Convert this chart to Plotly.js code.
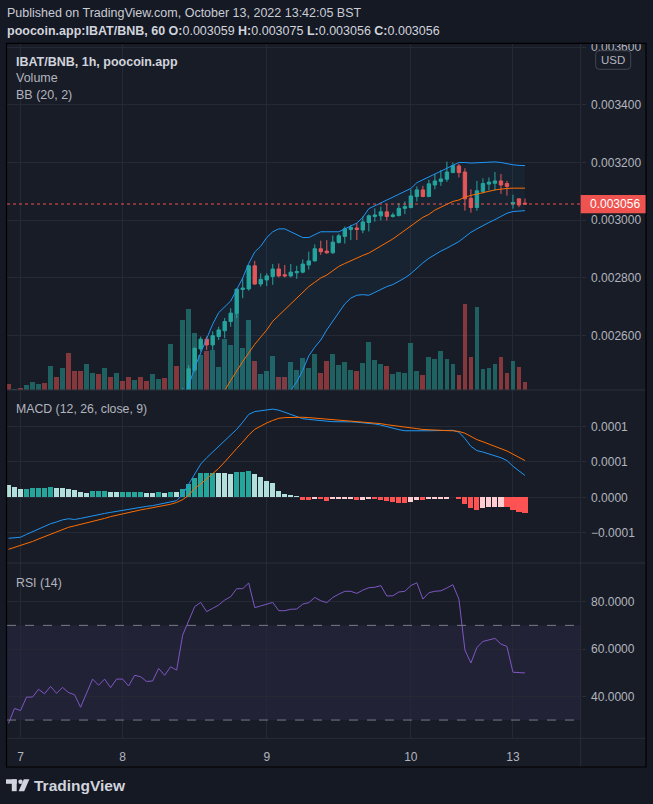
<!DOCTYPE html>
<html>
<head>
<meta charset="utf-8">
<script src="https://cdn.plot.ly/plotly-3.0.1.min.js"></script>
<style>
html,body{margin:0;padding:0;background:#151924;}
#chart{width:653px;height:804px;}
</style>
</head>
<body>
<div id="chart"></div>
<script>
// ---------- data ----------
const dayTickBars = [2, 19, 43, 67, 84];
const dayTickLabels = ['7', '8', '9', '10', '13'];

const openPrice = [
0.002270,0.002255,0.002262,0.002258,0.002280,0.002284,0.002298,0.002292,0.002310,0.002296,
0.002312,0.002300,0.002296,0.002272,0.002300,0.002326,0.002316,0.002330,0.002318,0.002334,
0.002332,0.002320,0.002340,0.002336,0.002328,0.002330,0.002356,0.002344,0.002366,0.002358,
0.002402,0.002481,0.002554,0.002588,0.002568,0.002597,0.002617,0.002649,0.002678,0.002760,
0.002762,0.002842,0.002779,0.002793,0.002805,0.002831,0.002811,0.002807,0.002818,0.002820,
0.002845,0.002859,0.002901,0.002893,0.002887,0.002923,0.002944,0.002968,0.002973,0.002966,
0.002992,0.003013,0.003015,0.003029,0.003013,0.003016,0.003041,0.003044,0.003082,0.003105,
0.003082,0.003122,0.003134,0.003142,0.003165,0.003188,0.003167,0.003076,0.003044,0.003099,
0.003125,0.003128,0.003136,0.003127,0.003056,0.003074,0.003059];
const highPrice = [
0.002285,0.002270,0.002268,0.002286,0.002292,0.002304,0.002302,0.002318,0.002314,0.002320,
0.002318,0.002306,0.002300,0.002306,0.002332,0.002330,0.002336,0.002334,0.002340,0.002340,
0.002336,0.002346,0.002346,0.002340,0.002336,0.002362,0.002360,0.002374,0.002372,0.002419,
0.002498,0.002560,0.002597,0.002597,0.002615,0.002631,0.002661,0.002695,0.002764,0.002799,
0.002845,0.002859,0.002816,0.002816,0.002848,0.002850,0.002845,0.002848,0.002842,0.002864,
0.002891,0.002916,0.002929,0.002931,0.002947,0.002953,0.002978,0.002984,0.002990,0.003013,
0.003020,0.003041,0.003047,0.003056,0.003026,0.003059,0.003065,0.003107,0.003117,0.003119,
0.003140,0.003160,0.003174,0.003203,0.003200,0.003195,0.003180,0.003107,0.003136,0.003145,
0.003148,0.003167,0.003160,0.003136,0.003088,0.003074,0.003075];
const lowPrice = [
0.002245,0.002250,0.002252,0.002255,0.002274,0.002280,0.002286,0.002288,0.002290,0.002292,
0.002294,0.002288,0.002266,0.002268,0.002296,0.002310,0.002312,0.002312,0.002314,0.002326,
0.002314,0.002316,0.002330,0.002322,0.002322,0.002326,0.002338,0.002340,0.002350,0.002352,
0.002396,0.002475,0.002545,0.002550,0.002551,0.002585,0.002591,0.002631,0.002661,0.002730,
0.002756,0.002776,0.002770,0.002772,0.002776,0.002802,0.002802,0.002802,0.002797,0.002816,
0.002829,0.002857,0.002880,0.002884,0.002884,0.002919,0.002919,0.002931,0.002931,0.002955,
0.002961,0.002995,0.002999,0.002999,0.003009,0.003013,0.003021,0.003041,0.003065,0.003080,
0.003080,0.003107,0.003119,0.003133,0.003163,0.003148,0.003033,0.003026,0.003033,0.003093,
0.003103,0.003103,0.003091,0.003085,0.003040,0.003045,0.003056];
const closePrice = [
0.002255,0.002262,0.002258,0.002280,0.002284,0.002298,0.002292,0.002310,0.002296,0.002312,
0.002300,0.002296,0.002272,0.002300,0.002326,0.002316,0.002330,0.002318,0.002334,0.002332,
0.002320,0.002340,0.002336,0.002328,0.002330,0.002356,0.002344,0.002366,0.002358,0.002402,
0.002485,0.002556,0.002588,0.002568,0.002600,0.002620,0.002649,0.002678,0.002761,0.002765,
0.002842,0.002779,0.002795,0.002807,0.002831,0.002807,0.002807,0.002820,0.002822,0.002848,
0.002859,0.002901,0.002891,0.002887,0.002924,0.002946,0.002970,0.002975,0.002968,0.002994,
0.003015,0.003018,0.003029,0.003013,0.003018,0.003041,0.003047,0.003084,0.003105,0.003082,
0.003126,0.003136,0.003143,0.003167,0.003189,0.003165,0.003074,0.003044,0.003102,0.003127,
0.003132,0.003136,0.003122,0.003117,0.003061,0.003053,0.003056];

const volume = [
6,1,2,5,8,6,7,24,13,22,
37,19,19,26,17,16,22,13,17,9,
13,10,13,9,16,11,12,46,24,70,
81,57,35,39,40,23,51,45,77,42,
70,29,16,19,34,13,13,28,20,32,
22,36,17,29,36,25,28,20,19,27,
48,30,26,24,16,18,17,47,19,15,
33,31,39,31,26,15,86,33,83,21,
22,26,33,17,29,23,8];

const bbUpper = [
0.002330,0.002328,0.002325,0.002322,0.002320,0.002322,0.002325,0.002330,0.002334,0.002338,
0.002340,0.002341,0.002342,0.002345,0.002350,0.002354,0.002357,0.002360,0.002362,0.002364,
0.002365,0.002366,0.002368,0.002370,0.002372,0.002374,0.002376,0.002378,0.002380,0.002392,
0.002425,0.002490,0.002540,0.002590,0.002640,0.002680,0.002700,0.002720,0.002760,0.002800,
0.002850,0.002890,0.002910,0.002940,0.002960,0.002970,0.002970,0.002960,0.002950,0.002940,
0.002940,0.002950,0.002960,0.002960,0.002960,0.002960,0.002970,0.002980,0.002990,0.003010,
0.003040,0.003050,0.003060,0.003070,0.003080,0.003090,0.003100,0.003110,0.003130,0.003140,
0.003150,0.003160,0.003170,0.003180,0.003190,0.003200,0.003200,0.003198,0.003199,0.003200,
0.003201,0.003202,0.003200,0.003195,0.003192,0.003190,0.003189];
const bbBasis = [
0.002240,0.002243,0.002246,0.002249,0.002252,0.002255,0.002258,0.002261,0.002264,0.002267,
0.002270,0.002273,0.002275,0.002277,0.002279,0.002281,0.002283,0.002285,0.002287,0.002289,
0.002291,0.002293,0.002295,0.002297,0.002299,0.002300,0.002301,0.002302,0.002303,0.002305,
0.002310,0.002322,0.002335,0.002350,0.002365,0.002385,0.002410,0.002445,0.002480,0.002510,
0.002540,0.002570,0.002595,0.002620,0.002650,0.002670,0.002690,0.002710,0.002730,0.002750,
0.002770,0.002785,0.002800,0.002810,0.002825,0.002840,0.002850,0.002860,0.002868,0.002878,
0.002886,0.002898,0.002910,0.002920,0.002935,0.002950,0.002965,0.002980,0.002995,0.003010,
0.003020,0.003035,0.003045,0.003055,0.003065,0.003070,0.003080,0.003086,0.003090,0.003095,
0.003100,0.003105,0.003108,0.003110,0.003111,0.003111,0.003111];
const bbLower = [
0.002150,0.002156,0.002167,0.002172,0.002176,0.002188,0.002191,0.002192,0.002194,0.002196,
0.002200,0.002205,0.002208,0.002209,0.002208,0.002208,0.002209,0.002210,0.002212,0.002214,
0.002217,0.002220,0.002222,0.002224,0.002226,0.002226,0.002226,0.002226,0.002226,0.002218,
0.002195,0.002154,0.002130,0.002110,0.002090,0.002090,0.002100,0.002120,0.002150,0.002180,
0.002210,0.002250,0.002290,0.002300,0.002330,0.002360,0.002390,0.002410,0.002440,0.002480,
0.002530,0.002560,0.002585,0.002620,0.002650,0.002680,0.002710,0.002730,0.002740,0.002742,
0.002740,0.002750,0.002760,0.002770,0.002777,0.002788,0.002800,0.002815,0.002835,0.002852,
0.002868,0.002882,0.002893,0.002903,0.002915,0.002926,0.002942,0.002958,0.002970,0.002982,
0.002992,0.003002,0.003012,0.003024,0.003030,0.003032,0.003033];

const macdLine = [
-5.75e-5,-5.70e-5,-5.60e-5,-5.20e-5,-4.80e-5,-4.40e-5,-4.00e-5,-3.70e-5,-3.45e-5,-3.15e-5,
-3.00e-5,-3.10e-5,-2.95e-5,-2.75e-5,-2.55e-5,-2.40e-5,-2.25e-5,-2.10e-5,-1.95e-5,-1.75e-5,
-1.60e-5,-1.48e-5,-1.35e-5,-1.25e-5,-1.15e-5,-1.00e-5,-0.85e-5,-0.70e-5,-0.45e-5,0.45e-5,
1.80e-5,3.30e-5,4.70e-5,5.60e-5,6.40e-5,7.20e-5,8.00e-5,8.75e-5,9.60e-5,10.60e-5,
11.70e-5,12.10e-5,12.25e-5,12.40e-5,12.45e-5,12.30e-5,12.00e-5,11.60e-5,11.30e-5,11.10e-5,
11.00e-5,10.95e-5,10.85e-5,10.75e-5,10.68e-5,10.70e-5,10.68e-5,10.65e-5,10.60e-5,10.55e-5,
10.45e-5,10.35e-5,10.20e-5,9.95e-5,9.75e-5,9.55e-5,9.40e-5,9.38e-5,9.42e-5,9.35e-5,
9.40e-5,9.42e-5,9.40e-5,9.42e-5,9.46e-5,9.20e-5,8.30e-5,7.20e-5,6.60e-5,6.40e-5,
6.15e-5,5.95e-5,5.60e-5,5.20e-5,4.40e-5,3.75e-5,3.10e-5];
const macdSignal = [
-7.30e-5,-7.05e-5,-6.80e-5,-6.50e-5,-6.20e-5,-5.85e-5,-5.50e-5,-5.15e-5,-4.80e-5,-4.45e-5,
-4.20e-5,-4.00e-5,-3.80e-5,-3.60e-5,-3.45e-5,-3.20e-5,-2.95e-5,-2.70e-5,-2.50e-5,-2.25e-5,
-2.05e-5,-1.90e-5,-1.75e-5,-1.60e-5,-1.45e-5,-1.30e-5,-1.15e-5,-0.95e-5,-0.70e-5,-0.30e-5,
0.30e-5,1.30e-5,1.90e-5,2.60e-5,3.30e-5,4.10e-5,5.00e-5,6.00e-5,6.90e-5,7.80e-5,
8.80e-5,9.60e-5,10.10e-5,10.50e-5,10.85e-5,11.15e-5,11.25e-5,11.30e-5,11.34e-5,11.30e-5,
11.25e-5,11.18e-5,11.12e-5,11.05e-5,11.00e-5,10.95e-5,10.88e-5,10.80e-5,10.72e-5,10.65e-5,
10.58e-5,10.50e-5,10.40e-5,10.25e-5,10.12e-5,10.00e-5,9.90e-5,9.80e-5,9.70e-5,9.58e-5,
9.52e-5,9.48e-5,9.45e-5,9.42e-5,9.40e-5,9.30e-5,9.05e-5,8.55e-5,8.15e-5,7.85e-5,
7.55e-5,7.20e-5,6.90e-5,6.55e-5,6.10e-5,5.65e-5,5.20e-5];
const macdHist = [
1.69e-5,1.41e-5,1.22e-5,1.24e-5,1.27e-5,1.36e-5,1.39e-5,1.50e-5,1.36e-5,1.34e-5,
1.22e-5,1.03e-5,0.80e-5,0.66e-5,0.94e-5,0.96e-5,0.97e-5,0.80e-5,0.79e-5,0.81e-5,
0.82e-5,0.83e-5,0.84e-5,0.66e-5,0.65e-5,0.79e-5,0.66e-5,0.80e-5,0.79e-5,1.22e-5,
1.92e-5,2.77e-5,3.47e-5,3.48e-5,3.49e-5,3.47e-5,3.46e-5,3.33e-5,3.61e-5,3.62e-5,
3.76e-5,3.33e-5,2.91e-5,2.35e-5,2.07e-5,0.94e-5,0.52e-5,0.38e-5,0.23e-5,-0.33e-5,
-0.34e-5,-0.19e-5,-0.23e-5,-0.50e-5,-0.28e-5,-0.27e-5,-0.19e-5,-0.18e-5,-0.33e-5,-0.32e-5,
-0.19e-5,-0.28e-5,-0.38e-5,-0.56e-5,-0.70e-5,-0.75e-5,-0.76e-5,-0.61e-5,-0.33e-5,-0.42e-5,
-0.23e-5,-0.22e-5,-0.19e-5,-0.18e-5,0.03e-5,-0.19e-5,-0.89e-5,-1.55e-5,-1.74e-5,-1.55e-5,
-1.41e-5,-1.40e-5,-1.39e-5,-1.41e-5,-1.83e-5,-2.02e-5,-2.16e-5];

const rsi = [
28.6,34.9,34.0,39.7,39.7,43.0,41.1,44.2,41.3,43.8,
41.6,40.7,35.4,41.3,47.3,44.7,47.3,43.7,47.3,47.3,
44.4,48.9,48.3,46.3,46.5,51.8,48.9,52.5,51.1,65.9,
72.3,77.9,79.7,75.8,77.2,78.6,80.7,82.1,85.5,85.5,
87.9,77.5,78.2,78.9,79.7,76.2,76.2,76.8,76.9,79.0,
79.6,81.8,80.4,79.6,81.8,83.2,84.4,84.4,83.5,84.9,
85.9,86.1,86.8,82.4,82.5,84.1,84.4,86.8,88.0,81.1,
83.8,84.4,84.6,85.8,87.2,81.1,59.6,54.1,60.7,63.2,
63.8,64.5,62.1,61.1,50.2,50.0,49.9];

const priceTicks = [0.0026, 0.0028, 0.0030, 0.0032, 0.0034, 0.0036];
const macdTicks = [-0.00005, 0, 0.00005, 0.0001];
const macdTickText = ['\u22120.0001', '0.0000', '0.0001', '0.0001'];
const rsiTicks = [40, 60, 80];
const rsiTickText = ['40.0000', '60.0000', '80.0000'];
const lastPrice = 0.003056;

// ---------- geometry helpers ----------
const W = 653, H = 804;
const fx = x => x / W;
const fy = y => 1 - y / H;
const bars = closePrice.map((_, i) => i);

const UP = '#26a69a', DOWN = '#ef5350';
const isUp = bars.map(i => closePrice[i] >= openPrice[i]);
const volColors = isUp.map(u => u ? 'rgba(38,166,154,0.5)' : 'rgba(239,83,80,0.5)');
const histColors = macdHist.map((v, i) => {
  const prev = i > 0 ? macdHist[i - 1] : Infinity;
  if (v >= 0) return v > prev ? '#26a69a' : '#b2dfdb';
  return v < prev ? '#ff5252' : '#ffcdd2';
});

const FONT = 'Liberation Sans, Arial, sans-serif';
const gridC = '#252935';
const sepC = '#2a2e39';
const axisFont = {family: FONT, size: 12, color: '#b2b5be'};

const traces = [
  {type: 'bar', x: bars, y: volume, xaxis: 'x3', yaxis: 'y3', width: 0.8,
   marker: {color: volColors, line: {width: 0}}, hoverinfo: 'skip'},
  {type: 'scatter', mode: 'lines', x: bars, y: bbUpper, xaxis: 'x3', yaxis: 'y4',
   line: {color: '#2196f3', width: 1}, hoverinfo: 'skip'},
  {type: 'scatter', mode: 'lines', x: bars, y: bbLower, xaxis: 'x3', yaxis: 'y4',
   line: {color: '#2196f3', width: 1}, fill: 'tonexty', fillcolor: 'rgba(33,150,243,0.06)', hoverinfo: 'skip'},
  {type: 'scatter', mode: 'lines', x: bars, y: bbBasis, xaxis: 'x3', yaxis: 'y4',
   line: {color: '#ff6d00', width: 1}, hoverinfo: 'skip'},
  {type: 'candlestick', x: bars, open: openPrice, high: highPrice, low: lowPrice, close: closePrice,
   xaxis: 'x3', yaxis: 'y4', whiskerwidth: 0,
   increasing: {line: {color: UP, width: 1}, fillcolor: UP},
   decreasing: {line: {color: DOWN, width: 1}, fillcolor: DOWN}, hoverinfo: 'skip'},
  {type: 'bar', x: bars, y: macdHist, xaxis: 'x2', yaxis: 'y2', width: 0.85,
   marker: {color: histColors, line: {width: 0}}, hoverinfo: 'skip'},
  {type: 'scatter', mode: 'lines', x: bars, y: macdLine, xaxis: 'x2', yaxis: 'y2',
   line: {color: '#2196f3', width: 1}, hoverinfo: 'skip'},
  {type: 'scatter', mode: 'lines', x: bars, y: macdSignal, xaxis: 'x2', yaxis: 'y2',
   line: {color: '#ff6d00', width: 1}, hoverinfo: 'skip'},
  {type: 'scatter', mode: 'lines', x: bars, y: rsi, xaxis: 'x', yaxis: 'y',
   line: {color: '#7e57c2', width: 1}, hoverinfo: 'skip'}
];

const xRange = [-0.25, 95.28];
const xBase = {
  domain: [fx(7), fx(580.7)], range: xRange, tickvals: dayTickBars, ticktext: dayTickLabels,
  showgrid: true, gridcolor: gridC, gridwidth: 1, zeroline: false, showline: false, fixedrange: true
};
const yBase = {
  side: 'right', showgrid: true, gridcolor: gridC, zeroline: false, showline: false,
  ticks: 'outside', ticklen: 4, tickcolor: sepC, tickfont: axisFont, fixedrange: true, ticklabelstandoff: 3
};

const shapes = [];
// chart background
shapes.push({type: 'rect', xref: 'paper', yref: 'paper', x0: fx(6.5), x1: fx(646), y0: fy(767), y1: fy(43.3),
  fillcolor: '#181c27', line: {width: 0}, layer: 'below'});
// RSI band
shapes.push({type: 'rect', xref: 'paper', yref: 'y', x0: fx(7), x1: fx(580.7), y0: 30, y1: 70,
  fillcolor: 'rgba(126,87,194,0.1)', line: {width: 0}, layer: 'below'});
[70, 30].forEach(v => shapes.push({type: 'line', xref: 'paper', yref: 'y', x0: fx(7), x1: fx(580.7), y0: v, y1: v,
  line: {color: '#787b86', width: 1, dash: 'dash'}}));
// last price line
shapes.push({type: 'line', xref: 'paper', yref: 'y4', x0: fx(7), x1: fx(580.7), y0: lastPrice, y1: lastPrice,
  line: {color: '#ef5350', width: 1, dash: 'dot'}});
// pane separators
[390, 563, 738.3].forEach(y => shapes.push({type: 'line', xref: 'paper', yref: 'paper', x0: fx(7), x1: fx(646), y0: fy(y), y1: fy(y),
  line: {color: sepC, width: 1}, layer: 'above'}));
shapes.push({type: 'line', xref: 'paper', yref: 'paper', x0: fx(580.7), x1: fx(580.7), y0: fy(767), y1: fy(43.3),
  line: {color: sepC, width: 1}, layer: 'above'});
// header cover (clips the top price label like the reference)
shapes.push({type: 'rect', xref: 'paper', yref: 'paper', x0: 0, x1: 1, y0: fy(43.3), y1: 1,
  fillcolor: '#151924', line: {width: 0}, layer: 'above'});
// outer border
shapes.push({type: 'rect', xref: 'paper', yref: 'paper', x0: fx(6.5), x1: fx(646), y0: fy(767), y1: fy(43.3),
  line: {color: '#000000', width: 1.2}, layer: 'above'});
// last price label box
shapes.push({type: 'rect', xref: 'paper', yref: 'paper', x0: fx(580.7), x1: fx(645.6), y0: fy(213.3), y1: fy(195),
  fillcolor: '#ef5350', line: {width: 0}, layer: 'above'});
// USD rounded box
function roundRect(x0, y0, x1, y1, r) {
  const X = fx, Y = fy;
  return `M${X(x0 + r)},${Y(y0)} L${X(x1 - r)},${Y(y0)} Q${X(x1)},${Y(y0)} ${X(x1)},${Y(y0 + r)} ` +
         `L${X(x1)},${Y(y1 - r)} Q${X(x1)},${Y(y1)} ${X(x1 - r)},${Y(y1)} L${X(x0 + r)},${Y(y1)} ` +
         `Q${X(x0)},${Y(y1)} ${X(x0)},${Y(y1 - r)} L${X(x0)},${Y(y0 + r)} Q${X(x0)},${Y(y0)} ${X(x0 + r)},${Y(y0)} Z`;
}
shapes.push({type: 'path', xref: 'paper', yref: 'paper', path: roundRect(595.7, 50.7, 630.7, 69.3, 3.5),
  line: {color: '#434651', width: 1}, layer: 'above'});
// TradingView logo glyph
const logoC = '#d1d4dc';
shapes.push({type: 'rect', xref: 'paper', yref: 'paper', x0: fx(6), x1: fx(16.7), y0: fy(783.8), y1: fy(779.3),
  fillcolor: logoC, line: {width: 0}, layer: 'above'});
shapes.push({type: 'rect', xref: 'paper', yref: 'paper', x0: fx(11.8), x1: fx(16.7), y0: fy(791.2), y1: fy(779.3),
  fillcolor: logoC, line: {width: 0}, layer: 'above'});
shapes.push({type: 'circle', xref: 'paper', yref: 'paper', x0: fx(18.3), x1: fx(22.7), y0: fy(784), y1: fy(779.6),
  fillcolor: logoC, line: {width: 0}, layer: 'above'});
shapes.push({type: 'path', xref: 'paper', yref: 'paper',
  path: `M${fx(23.8)},${fy(779.3)} L${fx(29.4)},${fy(779.3)} L${fx(24.2)},${fy(791.2)} L${fx(18.6)},${fy(791.2)} Z`,
  fillcolor: logoC, line: {width: 0}, layer: 'above'});

function note(text, x, y, size, color, extra) {
  return Object.assign({xref: 'paper', yref: 'paper', x: fx(x), y: fy(y), xanchor: 'left', yanchor: 'middle',
    text: text, showarrow: false, borderpad: 0, font: {family: FONT, size: size, color: color}}, extra || {});
}
const annotations = [
  note('Published on TradingView.com, October 13, 2022 13:42:05 BST', 5.5, 13.5, 12.5, '#c9ccd4'),
  note('<b>poocoin.app:IBAT/BNB, 60 O:</b>0.003059 <b>H:</b>0.003075 <b>L:</b>0.003056 <b>C:</b>0.003056', 5.5, 30.5, 12.5, '#d1d4dc'),
  note('<b>IBAT/BNB, 1h, poocoin.app</b>', 14.5, 61.5, 12.5, '#d1d4dc'),
  note('Volume', 14.5, 78, 12.5, '#b2b5be'),
  note('BB (20, 2)', 14.5, 95, 12.5, '#b2b5be'),
  note('MACD (12, 26, close, 9)', 14.8, 408.5, 12.3, '#b2b5be'),
  note('RSI (14)', 14.8, 582.5, 12.3, '#b2b5be'),
  note('USD', 613.2, 60, 11.5, '#b2b5be', {xanchor: 'center'}),
  note('0.003056', 588.5, 204.2, 12, '#ffffff'),
  note('<b>TradingView</b>', 32.5, 785.5, 15.5, '#d1d4dc')
];

const layout = {
  width: W, height: H, margin: {l: 0, r: 0, t: 0, b: 0},
  paper_bgcolor: '#151924', plot_bgcolor: 'rgba(0,0,0,0)',
  showlegend: false, boxgap: 0.2, bargap: 0, dragmode: false, hovermode: false,
  xaxis: Object.assign({}, xBase, {anchor: 'y', ticks: 'outside', ticklen: 7, tickcolor: 'rgba(0,0,0,0)',
    tickfont: axisFont, rangeslider: {visible: false}}),
  xaxis2: Object.assign({}, xBase, {anchor: 'y2', matches: 'x', showticklabels: false, ticks: ''}),
  xaxis3: Object.assign({}, xBase, {anchor: 'y3', matches: 'x', showticklabels: false, ticks: '',
    rangeslider: {visible: false}}),
  yaxis: Object.assign({}, yBase, {domain: [fy(738.3), fy(563)], anchor: 'x', range: [22.29, 96.35],
    tickvals: rsiTicks, ticktext: rsiTickText}),
  yaxis2: Object.assign({}, yBase, {domain: [fy(563), fy(390)], anchor: 'x2', range: [-0.0000923, 0.0001514],
    tickvals: macdTicks, ticktext: macdTickText}),
  yaxis3: {domain: [fy(390), fy(43.3)], anchor: 'x3', range: [0, 346.7], visible: false, fixedrange: true},
  yaxis4: Object.assign({}, yBase, {overlaying: 'y3', anchor: 'x3', range: [0.0024118, 0.0036128],
    tickvals: priceTicks, tickformat: '.6f'}),
  shapes: shapes,
  annotations: annotations
};

Plotly.newPlot('chart', traces, layout, {staticPlot: true, displayModeBar: false});
</script>
</body>
</html>
